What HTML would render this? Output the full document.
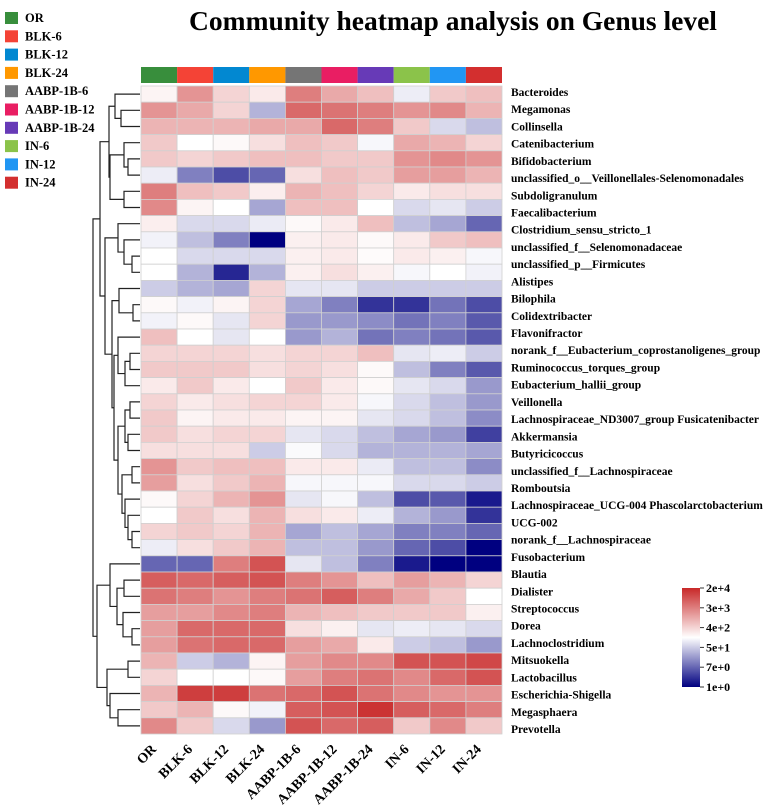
<!DOCTYPE html>
<html><head><meta charset="utf-8"><style>
html,body{margin:0;padding:0;background:#fff;width:767px;height:809px;overflow:hidden}
svg{display:block;font-family:"Liberation Serif",serif;font-weight:bold}
</style></head><body>
<svg id="chart" width="767" height="809" viewBox="0 0 767 809">
<text x="453" y="30" text-anchor="middle" font-size="27.5">Community heatmap analysis on Genus level</text>
<g id="legend"></g>
<g id="tree" stroke="#222" stroke-width="1.2" fill="none"></g>
<g id="colbar"></g>
<g id="cells"></g>
<g id="rlabels" font-size="11.5"></g>
<g id="clabels" font-size="14"></g>
<g id="scale"></g>
</svg>
<script>
const columns = ["OR","BLK-6","BLK-12","BLK-24","AABP-1B-6","AABP-1B-12","AABP-1B-24","IN-6","IN-12","IN-24"];
const groupColors = ["#388e3c","#f44336","#0288d1","#ff9800","#757575","#e91e63","#673ab7","#8bc34a","#2196f3","#d32f2f"];
const rowLabels = ["Bacteroides","Megamonas","Collinsella","Catenibacterium","Bifidobacterium","unclassified_o__Veillonellales-Selenomonadales","Subdoligranulum","Faecalibacterium","Clostridium_sensu_stricto_1","unclassified_f__Selenomonadaceae","unclassified_p__Firmicutes","Alistipes","Bilophila","Colidextribacter","Flavonifractor","norank_f__Eubacterium_coprostanoligenes_group","Ruminococcus_torques_group","Eubacterium_hallii_group","Veillonella","Lachnospiraceae_ND3007_group Fusicatenibacter","Akkermansia","Butyricicoccus","unclassified_f__Lachnospiraceae","Romboutsia","Lachnospiraceae_UCG-004 Phascolarctobacterium","UCG-002","norank_f__Lachnospiraceae","Fusobacterium","Blautia","Dialister","Streptococcus","Dorea","Lachnoclostridium","Mitsuokella","Lactobacillus","Escherichia-Shigella","Megasphaera","Prevotella"];
// scaled abundance, -10 (navy) .. 0 (white) .. 10 (firebrick)
const values = [
[0.5,5,2,1,6,4,3,-0.7,2.5,3],
[5,4,2,-3,7,6.5,6,5,5.5,3.5],
[3.5,3.5,3.5,4,4,7,6,2.5,-1.5,-2.5],
[2.5,0,0.3,1.5,3,2.5,-0.3,4,3.5,2],
[2.5,2,2.5,3,3,2.5,2.5,5,5.5,5],
[-0.7,-5,-7,-6,1.5,3,2.5,4.5,4.5,3.5],
[6,3,2.5,0.8,3.5,3,2,1,1.5,1.5],
[5.5,0.5,0,-3.5,3,3,0,-1.5,-1,-2],
[0.8,-1.5,-1.5,-0.8,0.3,1,3,-2.5,-3.5,-6],
[-0.5,-2.5,-5,-10,0.7,1,0.3,1,2.5,3],
[0,-1.5,-1.5,-1.5,0.7,1,0.2,1,0.7,-0.3],
[0,-3,-8.5,-3,0.7,1.5,0.7,-0.3,0,-0.5],
[-2,-3,-3.5,2,-1,-1,-2,-2,-2,-2],
[0.3,-0.5,0.5,2,-3.5,-5,-8,-8,-5.5,-7],
[-0.5,0.3,-1,2,-4,-4,-4.5,-5.5,-5,-6.5],
[3,0,-1,0,-4,-3,-5.5,-5,-5.5,-6.5],
[2,2,2,1.5,2,2,3,-1,-0.7,-2],
[2.5,2.5,2.5,1.5,2,1.5,0.3,-2.5,-5,-6.5],
[1,2.5,1,0,2.5,1,0.3,-1,-1.5,-4],
[2,1,1.5,2,2,1,-0.3,-1.5,-2.5,-4],
[2.5,0.5,1,1,0.5,0.5,-1,-1.5,-2.5,-4.5],
[2.5,1.5,2,2,-1,-1.5,-2.5,-3.5,-4,-7.5],
[1.5,1.5,1.5,-2,-0.2,-1.5,-3,-3,-3,-3.5],
[5,2.5,3,3,1,1,-0.8,-2.5,-2.5,-4.5],
[4.5,1.5,2.5,3.5,-0.3,-0.3,-0.3,-1.5,-1.5,-2],
[0.3,2,3.5,5,-1,-0.3,-2.5,-7,-6.5,-9],
[0,2.5,1.5,3.5,1.5,1,-0.7,-3,-4,-8],
[2,2.5,2,3.5,-3.5,-2.5,-3.5,-5,-5,-6],
[-0.7,1.5,2.5,3.5,-2.5,-2.5,-4,-6,-7,-10],
[-6,-6,6,8,-1,-2.5,-5,-9,-10,-10],
[7.5,7,7.5,8,6,5,3,4.5,3.5,2],
[6.5,6,5,6,6.5,7.5,6,4,2.5,0],
[4.5,4.5,5.5,6,3.5,3,2.5,2.5,2.5,0.7],
[4.5,7,7,7,1.5,0.7,-1,-0.7,-1,-1.5],
[4.5,6.5,7,7,4.5,4,1,-2,-2.5,-4],
[3.5,-2,-3,0.5,4.5,5.5,5.5,8,8,8.5],
[2,0,0,0.3,4.5,6,6.5,5.5,7,8],
[3.5,9,9,6.5,7,8,6.5,5.5,5,5],
[2.5,3.5,0.3,-0.5,7.5,8,9.5,7.5,7,6],
[5.5,2.5,-1.5,-4,8,7,7.5,2.5,5.5,2.5]
];
const scaleTicks = ["2e+4","3e+3","4e+2","5e+1","7e+0","1e+0"];
// dendrogram: [height, left, right]; leaves are row indices
const tree = [93,
  [100,
    [109,[115,0,[121,1,2]],[110,[124,3,[128,4,5]],[124,6,7]]],
    [105,[118,8,[124,9,[132,10,11]]],
      [112,[119,12,[133,13,14]],
        [114,[118,15,[125,[130,16,17],18]],
          [118,[125,[130,19,20],[128,21,22]],[122,[132,23,24],[125,25,[128,26,[132,27,28]]]]]]]]],
  [97,[110,29,[117,[124,30,31],[123,32,[132,33,34]]]],[107,[128,35,36],[110,37,[118,38,39]]]]
];

const NS="http://www.w3.org/2000/svg";
function mk(tag,attrs,parent){const e=document.createElementNS(NS,tag);for(const k in attrs)e.setAttribute(k,attrs[k]);parent.appendChild(e);return e;}
const X0=141, X1=502, Y0=86, Y1=734;
const nC=columns.length, nR=values.length;
const cw=(X1-X0)/nC, rh=(Y1-Y0)/nR;
const xPos=c=>X0+c*cw, yPos=r=>Y0+r*rh;
function color(v){
  const t=Math.max(-1,Math.min(1,v/10));
  let a,b,f;
  if(t>=0){a=[255,255,255];b=[200,40,40];f=t;}else{a=[255,255,255];b=[0,0,128];f=-t;}
  return "rgb("+a.map((x,i)=>Math.round(x+(b[i]-x)*f)).join(",")+")";
}
// legend
const lg=document.getElementById('legend');
columns.forEach((c,i)=>{
  const y=12+i*18.3;
  const r=mk('rect',{x:5,y:y,width:13,height:12,fill:groupColors[i]},lg);
  
  
  const t=mk('text',{x:25,y:y+10,'font-size':12.5},lg);t.textContent=c;
  
  
});
// color bar + cells
const cb=document.getElementById('colbar'), cg=document.getElementById('cells');
columns.forEach((c,j)=>{
  const r=mk('rect',{x:xPos(j),y:67,width:cw,height:16,fill:groupColors[j]},cb);
  
  
});
values.forEach((row,i)=>row.forEach((v,j)=>{
  const r=mk('rect',{x:xPos(j),y:yPos(i),width:cw,height:rh,fill:color(v),stroke:'#d0d0d0','stroke-width':0.8},cg);
  
  
}));
// row labels
const rl=document.getElementById('rlabels');
const ls=(729-92)/(rowLabels.length-1);
rowLabels.forEach((l,i)=>{
  const t=mk('text',{x:511,y:92+i*ls+4},rl);t.textContent=l;
  
  
});
// column labels
const cl=document.getElementById('clabels');
columns.forEach((c,j)=>{
  const cx=xPos(j)+cw/2-2, cy=750;
  const t=mk('text',{x:cx,y:cy,'text-anchor':'end',transform:'rotate(-45 '+cx+' '+cy+')'},cl);t.textContent=c;
  
  
});
// dendrogram
const tg=document.getElementById('tree');
function draw(n){
  if(typeof n==='number') return {x:X0-1,y:yPos(n)+rh/2};
  const h=n[0], a=draw(n[1]), b=draw(n[2]);
  const p=mk('path',{d:`M${a.x},${a.y}H${h}V${b.y}H${b.x}`},tg);
  
  
  return {x:h,y:(a.y+b.y)/2};
}
const root=draw(tree);
// color scale
const sg=document.getElementById('scale');
const defs=mk('defs',{},sg);
const gr=mk('linearGradient',{id:'grad',x1:0,y1:0,x2:0,y2:1},defs);
mk('stop',{offset:'0','stop-color':'rgb(200,40,40)'},gr);
mk('stop',{offset:'0.5','stop-color':'#ffffff'},gr);
mk('stop',{offset:'1','stop-color':'#000080'},gr);
const sb=mk('rect',{x:682,y:588,width:18,height:99,fill:'url(#grad)'},sg);


scaleTicks.forEach((s,i)=>{
  const y=588+i*(99/(scaleTicks.length-1));
  mk('line',{x1:700,x2:704,y1:y,y2:y,stroke:'#333'},sg);
  const t=mk('text',{x:706,y:y+4,'font-size':12},sg);t.textContent=s;
  
  
});
</script>
</body></html>
